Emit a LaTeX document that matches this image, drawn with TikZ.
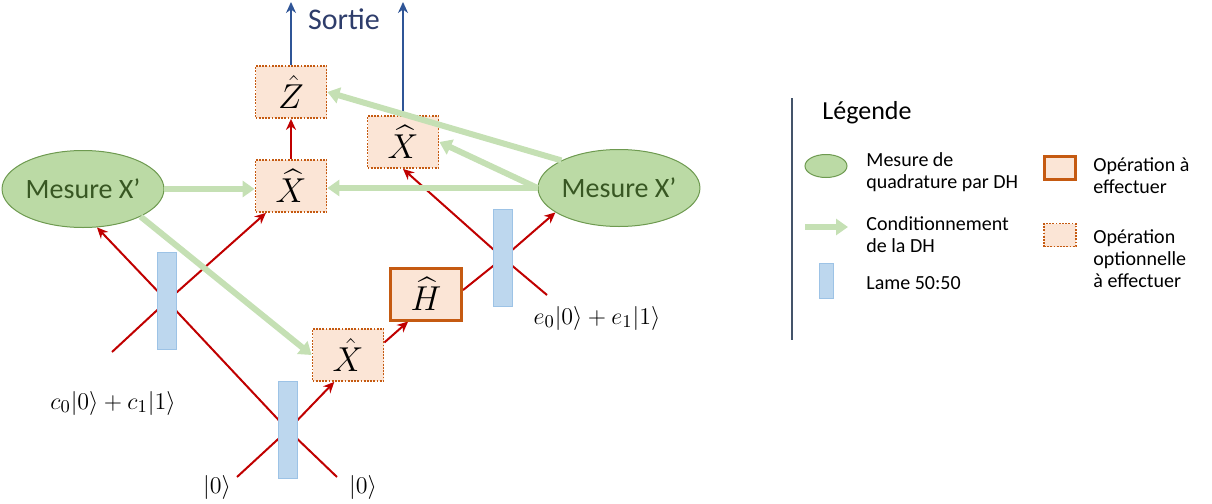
\documentclass[tikz,border=0pt]{standalone}
\usepackage{amsmath,amssymb}
\usepackage{fontspec}
\setmainfont{Carlito}
\usepackage{xcolor}
\usepackage{tikz}
\usetikzlibrary{shapes, arrows.meta, positioning, backgrounds, calc}

\definecolor{opfill}{HTML}{FBE5D6}
\definecolor{opdraw}{HTML}{C55A11}
\definecolor{mesfill}{HTML}{BBDAA5}
\definecolor{mesdraw}{HTML}{6E9A50}
\definecolor{mestext}{HTML}{385723}
\definecolor{condgreen}{HTML}{C5E0B4}
\definecolor{bsfill}{HTML}{BDD7EE}
\definecolor{bsdraw}{HTML}{9DC3E6}
\definecolor{beamred}{HTML}{C00000}
\definecolor{outblue}{HTML}{2F5597}
\definecolor{sortieblue}{HTML}{2E3D6B}
\definecolor{legline}{HTML}{44546A}

\begin{document}
\begin{tikzpicture}[x=0.5pt, y=-0.5pt,
		mesure/.style={ellipse, draw=mesdraw, fill=mesfill, line width=0.5pt,
			minimum width=74.5pt, minimum height=38.5pt, inner sep=0pt,
			text=mestext, font=\fontsize{14}{16}\selectfont},
		opopt/.style={rectangle, fill=opfill, draw=opdraw, dash pattern=on 0.9pt off 0.7pt, line width=0.9pt,
			minimum width=35.5pt, minimum height=26pt, inner sep=0pt,
			font=\fontsize{16}{18}\selectfont},
		opbox/.style={rectangle, fill=opfill, draw=opdraw, line width=1.5pt,
			minimum width=35.5pt, minimum height=26pt, inner sep=0pt,
			font=\fontsize{16}{18}\selectfont},
		lame/.style={rectangle, fill=bsfill, draw=bsdraw, line width=0.4pt,
			minimum width=9.5pt, minimum height=48.5pt, inner sep=0pt},
		faisceau/.style={beamred, line width=1pt, -{Stealth[length=5.5pt, width=5pt]}},
		cond/.style={condgreen, line width=3pt, -{Triangle[length=6pt, width=8pt]}},
		sortie/.style={outblue, line width=1pt, -{Stealth[length=5.5pt, width=5pt]}},
		etat/.style={font=\fontsize{13}{15}\selectfont},
		legtext/.style={anchor=west, align=left, inner sep=0pt, font=\fontsize{10}{11}\selectfont}]
	\useasboundingbox (0,0) rectangle (1212,504);
	% operations
	\node[opopt] (zbox) at (291,92) {$\hat{Z}$};
	\node[opopt] (xmid) at (291,186) {$\widehat{X}$};
	\node[opopt] (xtop) at (403,142) {$\widehat{X}$};
	\node[opopt] (xbot) at (348,355) {$\hat{X}$};
	\node[opbox] (hbox) at (426,294) {$\widehat{H}$};
	% mesures
	\node[mesure] (mesL) at (83,189) {Mesure X’};
	\node[mesure] (mesR) at (619,188) {Mesure X’};
	% lames
	\node[lame] (bs1) at (167,301) {};
	\node[lame] (bs2) at (288,430) {};
	\node[lame] (bs3) at (503,258) {};
	% entrees et sorties
	\coordinate (inC) at (112,352);
	\coordinate (inL) at (237,477);
	\coordinate (inR) at (337,477);
	\coordinate (inE) at (547,295);
	\coordinate (outZ) at (291,2);
	\coordinate (outX) at (403,2);
	\node[etat] (lblC) at (113,403) {$c_0|0\rangle + c_1|1\rangle$};
	\node[etat] (lblL) at (217,487) {$|0\rangle$};
	\node[etat] (lblR) at (363,487) {$|0\rangle$};
	\node[etat] (lblE) at (597,318) {$e_0|0\rangle + e_1|1\rangle$};
	\node[text=sortieblue, font=\fontsize{15}{18}\selectfont] (sortie) at (344,19) {Sortie};
	% faisceaux
	\begin{scope}[on background layer]
		\draw[faisceau] (inR) -- (bs2.center) -- (bs1.center) -- (mesL.-70);
		\draw[faisceau] (inC) -- (bs1.center) -- (xmid.-133);
		\draw[faisceau] (inL) -- (bs2.center) -- (xbot.-117);
		\draw[faisceau] (xbot.19) -- (hbox.-123);
		\draw[faisceau] (hbox.6) -- (bs3.center) -- (mesR.-159);
		\draw[faisceau] (inE) -- (bs3.center) -- (xtop.south);
	\end{scope}
	\draw[faisceau] (xmid) -- (zbox);
	\draw[sortie] (zbox) -- (outZ);
	\draw[sortie] (xtop) -- (outX);
	% conditionnement
	\draw[cond] (mesL.east) -- (mesL.east -| xmid.west);
	\draw[cond] (mesR.west) -- (mesR.west -| xmid.east);
	\draw[cond] (mesL.south east) -- (xbot.west);
	\draw[cond] (mesR.west) -- (xtop.east);
	\draw[cond] (mesR.north west) -- (zbox.east);
	% legende
	\draw[legline, line width=1pt] (792,98) -- (792,340);
	\node[anchor=west, inner sep=0pt, font=\fontsize{13}{15}\selectfont] (legtitle) at (822,113) {Légende};
	\node[mesure, minimum width=21pt, minimum height=11.5pt] (legmes) at (826,166) {};
	\node[legtext] (legmestxt) at (866,172) {Mesure de\\quadrature par DH};
	\coordinate (legcondA) at (805,227);
	\coordinate (legcondB) at (848,227);
	\draw[cond] (legcondA) -- (legcondB);
	\node[legtext] (legcondtxt) at (866,235) {Conditionnement\\de la DH};
	\node[lame, minimum width=7pt, minimum height=17.5pt] (leglame) at (826,281) {};
	\node[legtext] (leglametxt) at (866,283) {Lame 50:50};
	\node[opbox, minimum width=15.5pt, minimum height=11.5pt] (legop) at (1060,168) {};
	\node[legtext] (legoptxt) at (1093,176) {Opération à\\effectuer};
	\node[opopt, minimum width=16pt, minimum height=11.5pt] (legopt) at (1060,235) {};
	\node[legtext] (legopttxt) at (1093,259) {Opération\\optionnelle\\à effectuer};
\end{tikzpicture}
\end{document}
